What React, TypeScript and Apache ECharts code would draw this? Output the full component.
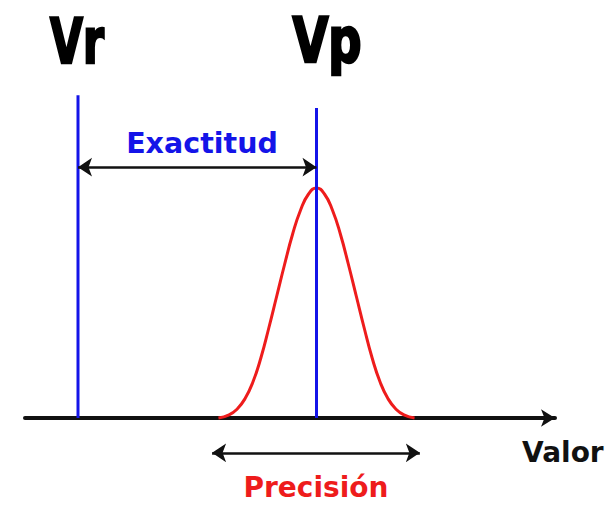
import React, { useEffect, useRef } from "react";
import * as echarts from "echarts";

// Bell curve (x in axis units, y in axis units)
const curveX = [3.65, 3.85, 4.0, 4.15, 4.3, 4.45, 4.6, 4.75, 4.9, 5.05, 5.2, 5.35, 5.5, 5.65, 5.8, 5.95, 6.1, 6.25, 6.4, 6.55, 6.7, 6.85, 7.0, 7.15, 7.35];
const curveY = [0, 0.08, 0.22, 0.48, 0.9, 1.5, 2.25, 3.05, 3.85, 4.6, 5.2, 5.6, 5.75, 5.6, 5.2, 4.6, 3.85, 3.05, 2.25, 1.5, 0.9, 0.48, 0.22, 0.08, 0];

// Reference values
const vrValue = 1;
const vpValue = 5.5;
const vrTop = 8.07;
const vpTop = 7.75;
const exactitudY = 6.27;
const precisionY = -0.87;
const precisionFrom = 3.53;
const precisionTo = 7.45;

const labels = { vr: "Vr", vp: "Vp", exact: "Exactitud", prec: "Precisión", axis: "Valor" };

export default function App() {
  const ref = useRef<HTMLDivElement>(null);
  useEffect(() => {
    if (!ref.current) return;
    const chart = echarts.init(ref.current, null, { renderer: "svg" });
    const blue = "#1414e8";
    const red = "#ee1c1c";
    const bigFont = "bold 63px 'DejaVu Sans Condensed', 'DejaVu Sans', sans-serif";
    const smallFont = "bold 28px 'DejaVu Sans', sans-serif";
    chart.setOption({
      animation: false,
      backgroundColor: "#ffffff",
      grid: { left: 25, top: 18, width: 530, height: 480, containLabel: false },
      xAxis: {
        type: "value",
        min: 0,
        max: 10,
        axisLine: {
          show: true,
          onZero: true,
          symbol: ["none", "arrow"],
          symbolSize: [13, 14],
          lineStyle: { color: "#111", width: 4 },
        },
        axisTick: { show: false },
        axisLabel: { show: false },
        splitLine: { show: false },
      },
      yAxis: {
        type: "value",
        min: -2,
        max: 10,
        axisLine: { show: false },
        axisTick: { show: false },
        axisLabel: { show: false },
        splitLine: { show: false },
      },
      series: [
        {
          type: "line",
          name: "curve",
          data: curveX.map((x, i) => [x, curveY[i]]),
          smooth: 0.5,
          showSymbol: false,
          lineStyle: { color: red, width: 3 },
          z: 3,
        },
        {
          type: "line",
          name: "Vr",
          data: [[vrValue, 0], [vrValue, vrTop]],
          showSymbol: false,
          lineStyle: { color: blue, width: 3 },
          z: 4,
        },
        {
          type: "line",
          name: "Vp",
          data: [[vpValue, 0], [vpValue, vpTop]],
          showSymbol: false,
          lineStyle: { color: blue, width: 3 },
          z: 4,
        },
        {
          type: "lines",
          coordinateSystem: "cartesian2d",
          symbol: ["arrow", "arrow"],
          symbolSize: 14,
          lineStyle: { color: "#111", width: 2.5, opacity: 1 },
          data: [
            { coords: [[vrValue, exactitudY], [vpValue, exactitudY]] },
            { coords: [[precisionFrom, precisionY], [precisionTo, precisionY]] },
          ],
          z: 5,
        },
      ],
      graphic: [
        {
          type: "text",
          x: 77,
          y: 41,
          scaleX: 0.75,
          style: { text: labels.vr, font: bigFont, fill: "#000", stroke: "#000", lineWidth: 2.5, align: "center", verticalAlign: "middle" },
        },
        {
          type: "text",
          x: 327,
          y: 41,
          scaleX: 0.82,
          style: { text: labels.vp, font: bigFont, fill: "#000", stroke: "#000", lineWidth: 2.5, align: "center", verticalAlign: "middle" },
        },
        {
          type: "text",
          x: 202,
          y: 143,
          style: { text: labels.exact, font: "bold 28.5px 'DejaVu Sans', sans-serif", fill: blue, align: "center", verticalAlign: "middle" },
        },
        {
          type: "text",
          x: 316,
          y: 487,
          style: { text: labels.prec, font: smallFont, fill: red, align: "center", verticalAlign: "middle" },
        },
        {
          type: "text",
          x: 522,
          y: 452,
          style: { text: labels.axis, font: smallFont, fill: "#111", align: "left", verticalAlign: "middle" },
        },
      ],
    });
    return () => chart.dispose();
  }, []);
  return (
    <div
      ref={ref}
      style={{ position: "absolute", left: 0, top: 0, width: 611, height: 505 }}
    />
  );
}
